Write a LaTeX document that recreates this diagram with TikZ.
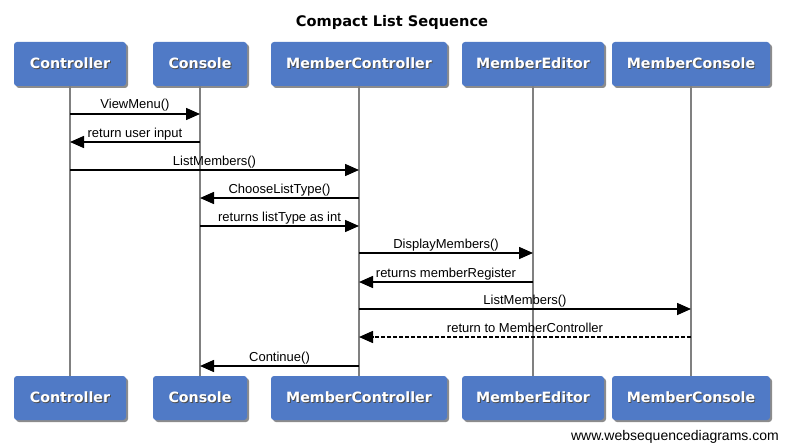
\documentclass[tikz,border=0pt]{standalone}
\usepackage{fontspec}
\setmainfont{Liberation Sans}
\newfontfamily\vfont{DejaVu Sans}
\usetikzlibrary{shadows,arrows.meta}
\definecolor{boxblue}{RGB}{80,122,198}
\definecolor{lifegray}{RGB}{128,128,128}
\newcommand\shadowtxt[1]{\setbox0\hbox{#1}\rlap{\kern0.9pt\raisebox{-0.9pt}{\color{black!70}\copy0}}\box0}
\tikzset{
 part/.style={fill=boxblue, rounded corners=3pt, inner sep=0pt, minimum height=44pt, text=white,
   font=\vfont\bfseries\fontsize{14.2}{16}\selectfont,
   drop shadow={shadow xshift=2pt, shadow yshift=-2pt, opacity=0.45, fill=black}},
 life/.style={draw=lifegray, line width=1.3pt},
 msg/.style={draw=black, line width=1.6pt, -{Triangle[length=14pt,width=12pt]}},
 ret/.style={msg, dash pattern=on 4pt off 2pt},
 lbl/.style={font=\fontsize{13}{15}\selectfont, anchor=base, inner sep=0pt, yshift=5pt},
}
\begin{document}
\begin{tikzpicture}[x=1pt,y=-1pt]
\useasboundingbox[fill=white] (0,0) rectangle (785,444);
\node[anchor=base, inner sep=0pt, font=\vfont\bfseries\fontsize{14.6}{16}\selectfont] (title) at (392,27) {Compact List Sequence};
% top participants
\node[part, minimum width=112pt] (ctrlT) at (70,64) {\shadowtxt{Controller}};
\node[part, minimum width=94pt]  (consT) at (200,64) {\shadowtxt{Console}};
\node[part, minimum width=176pt] (mcT)   at (359,64) {\shadowtxt{MemberController}};
\node[part, minimum width=142pt] (meT)   at (533,64) {\shadowtxt{MemberEditor}};
\node[part, minimum width=158pt] (mconT) at (691,64) {\shadowtxt{MemberConsole}};
% bottom participants
\node[part, minimum width=112pt] (ctrlB) at (70,398) {\shadowtxt{Controller}};
\node[part, minimum width=94pt]  (consB) at (200,398) {\shadowtxt{Console}};
\node[part, minimum width=176pt] (mcB)   at (359,398) {\shadowtxt{MemberController}};
\node[part, minimum width=142pt] (meB)   at (533,398) {\shadowtxt{MemberEditor}};
\node[part, minimum width=158pt] (mconB) at (691,398) {\shadowtxt{MemberConsole}};
% lifelines
\draw[life] (ctrlT.south) -- (ctrlB.north);
\draw[life] (consT.south) -- (consB.north);
\draw[life] (mcT.south) -- (mcB.north);
\draw[life] (meT.south) -- (meB.north);
\draw[life] (mconT.south) -- (mconB.north);
% message rows
\coordinate (m1) at (0,114);
\coordinate (m2) at (0,142);
\coordinate (m3) at (0,170);
\coordinate (m4) at (0,198);
\coordinate (m5) at (0,226);
\coordinate (m6) at (0,253);
\coordinate (m7) at (0,282);
\coordinate (m8) at (0,309);
\coordinate (m9) at (0,337);
\coordinate (m10) at (0,366);
\draw[msg] (ctrlT.south |- m1) -- node[lbl]{ViewMenu()} (consT.south |- m1);
\draw[msg] (consT.south |- m2) -- node[lbl]{return user input} (ctrlT.south |- m2);
\draw[msg] (ctrlT.south |- m3) -- node[lbl]{ListMembers()} (mcT.south |- m3);
\draw[msg] (mcT.south |- m4) -- node[lbl]{ChooseListType()} (consT.south |- m4);
\draw[msg] (consT.south |- m5) -- node[lbl]{returns listType as int} (mcT.south |- m5);
\draw[msg] (mcT.south |- m6) -- node[lbl]{DisplayMembers()} (meT.south |- m6);
\draw[msg] (meT.south |- m7) -- node[lbl]{returns memberRegister} (mcT.south |- m7);
\draw[msg] (mcT.south |- m8) -- node[lbl]{ListMembers()} (mconT.south |- m8);
\draw[ret] (mconT.south |- m9) -- node[lbl]{return to MemberController} (mcT.south |- m9);
\draw[msg] (mcT.south |- m10) -- node[lbl]{Continue()} (consT.south |- m10);
\node[anchor=base east, inner sep=0pt, font=\fontsize{14}{16}\selectfont] (footer) at (779,440) {www.websequencediagrams.com};
\end{tikzpicture}
\end{document}
